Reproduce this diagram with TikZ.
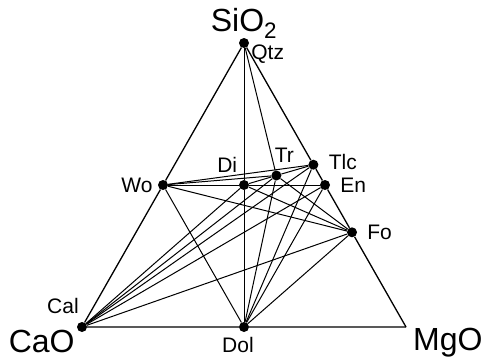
\documentclass[tikz,border=0pt]{standalone}
\usepackage{fontspec}
\setmainfont{Liberation Sans}
\usetikzlibrary{positioning}
\tikzset{
  phase/.style={circle, fill=black, inner sep=0pt, minimum size=10pt},
  tie/.style={line width=1pt},
  edge/.style={line width=1.3pt},
  small/.style={font=\fontsize{21}{21}\selectfont, inner sep=1pt},
  big/.style={font=\fontsize{32}{32}\selectfont, inner sep=1pt}
}

\begin{document}
\begin{tikzpicture}[x=1pt, y=-1pt]
    \useasboundingbox (0,0) rectangle (487,362);

    % Phases
    \node[phase] (Qtz) at (244, 43) {};
    \node[phase] (Cal) at (82, 327) {};
    \coordinate (MgO) at (406, 327);
    \node[phase] (Dol) at (244, 327) {};
    \node[phase] (Wo) at (163, 185) {};
    \node[phase] (Di) at (244, 185) {};
    \node[phase] (En) at (325, 185) {};
    \node[phase] (Tr) at (276.4, 175.5) {};
    \node[phase] (Tlc) at (313.4, 164.7) {};
    \node[phase] (Fo) at (352, 232.3) {};

    % Triangle
    \draw[edge] (Qtz) -- (Wo) -- (Cal) -- (Dol) -- (MgO);
    \draw[edge] (Qtz) -- (Tlc) -- (En) -- (Fo) -- (MgO);

    % Joins within the triangle
    \draw[tie] (Qtz) -- (Di) -- (Dol);
    \draw[tie] (Qtz) -- (Tr);
    \draw[tie] (Wo) -- (Di) -- (En);
    \draw[tie] (Wo) -- (Tr);
    \draw[tie] (Wo) -- (Tlc);
    \draw[tie] (Wo) -- (Fo);
    \draw[tie] (Wo) -- (Dol);
    \draw[tie] (Di) -- (Tr) -- (Tlc);
    \draw[tie] (Di) -- (Fo);
    \draw[tie] (Tr) -- (Fo);

    % Joins to Cal
    \draw[tie] (Cal) -- (Di);
    \draw[tie] (Cal) -- (Tr);
    \draw[tie] (Cal) -- (Tlc);
    \draw[tie] (Cal) -- (En);
    \draw[tie] (Cal) -- (Fo);

    % Joins to Dol
    \draw[tie] (Dol) -- (Tr);
    \draw[tie] (Dol) -- (Tlc);
    \draw[tie] (Dol) -- (En);
    \draw[tie] (Dol) -- (Fo);

    % Labels
    \node[big, above=-2pt of Qtz] (SiOLabel) {SiO\textsubscript{2}};
    \node[small, right=1pt of Qtz, yshift=-11pt] (QtzLabel) {Qtz};
    \node[small, left=4pt of Wo] (WoLabel) {Wo};
    \node[small, above left=8pt and 2pt of Di] (DiLabel) {Di};
    \node[small, above=7pt of Tr, xshift=8pt] (TrLabel) {Tr};
    \node[small, right=9pt of Tlc, yshift=3pt] (TlcLabel) {Tlc};
    \node[small, right=9pt of En] (EnLabel) {En};
    \node[small, right=9pt of Fo] (FoLabel) {Fo};
    \node[small, above=7pt of Cal, xshift=-19pt] (CalLabel) {Cal};
    \node[big, left=1pt of Cal, yshift=-14pt] (CaOLabel) {CaO};
    \node[small, below=4pt of Dol, xshift=-6pt] (DolLabel) {Dol};
    \node[big, right=6pt of MgO, yshift=-16pt] (MgOLabel) {MgO};
\end{tikzpicture}
\end{document}
